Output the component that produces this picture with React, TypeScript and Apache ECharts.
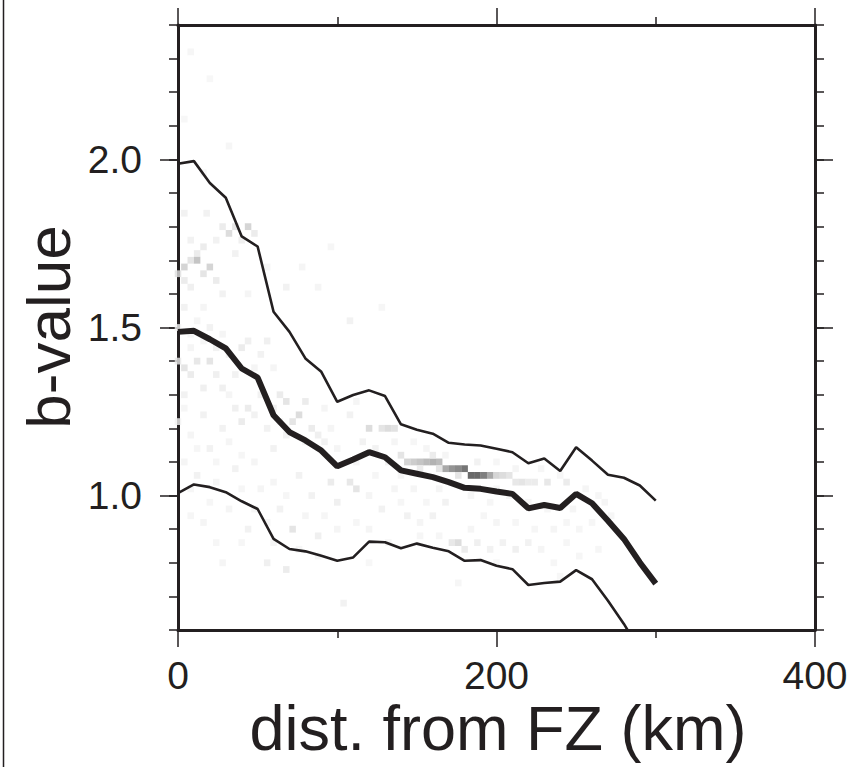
import React, { useEffect, useRef } from 'react';
import * as echarts from 'echarts';

// distance from fault zone (km)
const distances = [0, 10, 20, 30, 40, 50, 60, 70, 80, 90, 100, 110, 120, 130, 140, 150, 160, 170, 180, 190, 200, 210, 220, 230, 240, 250, 260, 270, 280, 290, 300];
// upper confidence bound of b-value
const upperBound = [1.987, 1.995, 1.93, 1.886, 1.771, 1.741, 1.547, 1.487, 1.408, 1.368, 1.279, 1.299, 1.313, 1.296, 1.212, 1.196, 1.184, 1.157, 1.152, 1.149, 1.139, 1.129, 1.096, 1.11, 1.073, 1.144, 1.104, 1.062, 1.053, 1.03, 0.985];
// median b-value
const medianB = [1.487, 1.49, 1.465, 1.438, 1.378, 1.351, 1.239, 1.189, 1.164, 1.134, 1.087, 1.107, 1.129, 1.114, 1.075, 1.065, 1.055, 1.04, 1.023, 1.02, 1.012, 1.005, 0.962, 0.972, 0.963, 1.005, 0.977, 0.925, 0.871, 0.801, 0.738];
// lower confidence bound of b-value
const lowerBound = [1.007, 1.033, 1.025, 1.01, 0.983, 0.96, 0.871, 0.841, 0.834, 0.821, 0.806, 0.816, 0.863, 0.861, 0.843, 0.857, 0.845, 0.834, 0.806, 0.808, 0.791, 0.781, 0.734, 0.74, 0.744, 0.778, 0.751, 0.687, 0.618, 0.54, 0.46];

// density cells [distance km, b-value, relative density]
const densityCells: [number, number, number][] = [
  [8, 2.32, 0.06], [20, 2.24, 0.05], [4, 2.12, 0.05], [32, 2.04, 0.06], [16, 1.96, 0.06], [96, 1.74, 0.06], [128, 1.56, 0.06],
  [4, 1.84, 0.1], [18, 1.84, 0.1], [28, 1.8, 0.15], [36, 1.8, 0.2], [44, 1.8, 0.3], [48, 1.78, 0.15], [32, 1.78, 0.25],
  [40, 1.76, 0.12], [24, 1.76, 0.1], [8, 1.76, 0.1], [12, 1.72, 0.15], [12, 1.7, 0.4], [8, 1.7, 0.2], [4, 1.68, 0.3],
  [20, 1.68, 0.3], [16, 1.66, 0.2], [4, 1.64, 0.15], [24, 1.64, 0.15], [8, 1.62, 0.12], [28, 1.6, 0.1], [0, 1.66, 0.2],
  [16, 1.74, 0.15], [36, 1.72, 0.1], [68, 1.62, 0.1], [88, 1.62, 0.08], [78, 1.68, 0.08], [108, 1.52, 0.1], [56, 1.68, 0.08],
  [4, 1.56, 0.1], [16, 1.56, 0.08], [44, 1.6, 0.08],
  [0, 1.4, 0.15], [4, 1.38, 0.2], [8, 1.36, 0.15], [12, 1.4, 0.18], [20, 1.4, 0.2], [24, 1.36, 0.12], [4, 1.3, 0.1],
  [16, 1.32, 0.12], [28, 1.32, 0.12], [40, 1.44, 0.15], [44, 1.46, 0.12], [56, 1.46, 0.12], [36, 1.26, 0.12], [44, 1.26, 0.15],
  [40, 1.22, 0.15], [16, 1.24, 0.1], [28, 1.2, 0.1], [8, 1.18, 0.08], [20, 1.14, 0.1], [64, 1.3, 0.15], [68, 1.28, 0.2],
  [76, 1.24, 0.25], [80, 1.28, 0.15], [72, 1.22, 0.2], [84, 1.2, 0.15], [88, 1.18, 0.12], [56, 1.2, 0.1], [60, 1.14, 0.1],
  [48, 1.1, 0.08], [92, 1.26, 0.08],
  [4, 1.1, 0.08], [12, 1.06, 0.1], [24, 1.04, 0.08], [36, 1.08, 0.1], [52, 1.02, 0.08], [44, 0.9, 0.1], [72, 0.9, 0.2],
  [64, 0.96, 0.1], [88, 0.88, 0.12], [96, 1.04, 0.15], [108, 1.04, 0.18], [112, 1.02, 0.2], [100, 0.98, 0.12], [84, 1.0, 0.1],
  [56, 0.8, 0.12], [68, 0.78, 0.15], [28, 0.8, 0.08], [104, 0.68, 0.1], [16, 0.92, 0.08], [76, 1.06, 0.1], [120, 1.0, 0.08],
  [128, 0.96, 0.1],
  [108, 1.24, 0.1], [120, 1.2, 0.25], [128, 1.2, 0.2], [132, 1.2, 0.25], [136, 1.2, 0.22], [116, 1.16, 0.1], [124, 1.14, 0.1],
  [112, 1.28, 0.08],
  [140, 1.12, 0.2], [144, 1.1, 0.3], [148, 1.1, 0.35], [152, 1.1, 0.4], [156, 1.1, 0.45], [160, 1.1, 0.5], [164, 1.1, 0.45],
  [168, 1.08, 0.55], [172, 1.08, 0.65], [176, 1.08, 0.7], [180, 1.08, 0.8], [184, 1.06, 0.85], [188, 1.06, 0.85],
  [192, 1.06, 0.75], [196, 1.06, 0.55], [200, 1.06, 0.3], [204, 1.06, 0.25], [208, 1.06, 0.2], [212, 1.04, 0.18],
  [216, 1.04, 0.2], [220, 1.04, 0.15], [224, 1.04, 0.15], [232, 1.04, 0.18], [244, 1.04, 0.15], [152, 1.08, 0.15],
  [164, 1.08, 0.2], [176, 1.06, 0.2], [160, 1.12, 0.15],
  [144, 0.94, 0.1], [152, 0.92, 0.08], [160, 0.94, 0.1], [168, 0.98, 0.1], [172, 0.86, 0.18], [176, 0.86, 0.25],
  [180, 0.84, 0.15], [188, 0.86, 0.12], [196, 0.84, 0.1], [204, 0.86, 0.1], [212, 0.84, 0.12], [220, 0.86, 0.1],
  [228, 0.84, 0.08], [184, 0.9, 0.08], [200, 0.92, 0.08], [236, 0.9, 0.08], [248, 0.96, 0.08], [268, 0.98, 0.08],
  [260, 0.92, 0.06], [176, 0.74, 0.06], [236, 0.8, 0.06],
  [0, 1.5, 0.08], [8, 1.48, 0.06], [12, 1.52, 0.08], [20, 1.5, 0.1], [28, 1.48, 0.08], [32, 1.42, 0.1], [8, 1.44, 0.08],
  [16, 1.46, 0.06], [24, 1.44, 0.1], [36, 1.36, 0.1], [48, 1.38, 0.08], [52, 1.42, 0.1], [60, 1.38, 0.08], [32, 1.3, 0.08],
  [52, 1.3, 0.1], [48, 1.24, 0.1], [60, 1.26, 0.12], [64, 1.22, 0.08], [68, 1.18, 0.1], [80, 1.16, 0.08], [92, 1.16, 0.1],
  [96, 1.2, 0.08], [100, 1.14, 0.08], [32, 1.16, 0.08], [40, 1.12, 0.06], [12, 1.14, 0.06], [0, 1.22, 0.08], [4, 1.26, 0.06],
  [24, 1.1, 0.06], [8, 1.02, 0.06], [20, 0.98, 0.06], [32, 0.96, 0.08], [40, 1.02, 0.06], [60, 1.04, 0.08], [68, 1.0, 0.06],
  [80, 0.94, 0.08], [92, 0.94, 0.06], [100, 0.9, 0.08], [112, 0.92, 0.06], [120, 0.9, 0.08], [56, 0.92, 0.06], [60, 0.86, 0.08],
  [76, 0.84, 0.06], [88, 0.82, 0.06], [40, 0.86, 0.06], [48, 0.96, 0.06], [24, 0.86, 0.06], [8, 0.94, 0.06], [112, 1.1, 0.08],
  [124, 1.06, 0.06], [136, 1.02, 0.08], [132, 1.1, 0.1], [140, 1.06, 0.08], [148, 1.02, 0.08], [156, 0.98, 0.06],
  [164, 1.02, 0.08], [184, 1.0, 0.06], [196, 0.98, 0.06], [208, 1.0, 0.06], [220, 0.98, 0.06], [232, 0.96, 0.06],
  [244, 0.92, 0.06], [252, 0.9, 0.06], [256, 1.02, 0.08], [264, 1.0, 0.06], [272, 0.94, 0.06], [212, 0.92, 0.06],
  [224, 0.9, 0.06], [192, 0.94, 0.06], [140, 0.98, 0.06], [136, 1.16, 0.08], [148, 1.16, 0.06], [156, 1.14, 0.08],
  [168, 1.12, 0.08], [188, 1.1, 0.1], [200, 1.1, 0.06], [212, 1.08, 0.08], [228, 1.08, 0.06], [240, 1.06, 0.06],
  [200, 1.02, 0.06], [152, 0.88, 0.06], [164, 0.88, 0.06], [244, 0.86, 0.06], [252, 0.82, 0.06], [264, 0.84, 0.06],
  [240, 0.76, 0.05], [200, 0.8, 0.05], [120, 0.8, 0.05], [132, 0.86, 0.06],
];

const yLabelValues = [1.0, 1.5, 2.0];
const xLabelValues = [0, 200, 400];

const INK = '#231f20';
const FONT = 'Liberation Sans';

function grayFor(v: number) {
  const g = Math.round(250 - 225 * Math.pow(v, 1.3));
  return `rgb(${g},${g},${g})`;
}

export default function App() {
  const ref = useRef<HTMLDivElement>(null);

  useEffect(() => {
    if (!ref.current) return;
    const chart = echarts.init(ref.current, undefined, { renderer: 'svg' });

    // short ticks every 0.1 with the frame line
    const yMinorAxis = (position: 'left' | 'right', withLabels: boolean) => ({
      type: 'value' as const,
      position,
      min: 0.6,
      max: 2.4,
      interval: 0.1,
      splitLine: { show: false },
      axisLine: { show: true, onZero: false, lineStyle: { color: INK, width: 3 } },
      axisTick: { show: true, inside: false, length: 9, lineStyle: { color: INK, width: 1.5 } },
      axisLabel: withLabels
        ? {
            show: true,
            margin: 36,
            color: INK,
            fontSize: 39,
            fontFamily: FONT,
            customValues: yLabelValues,
            formatter: (v: number) => v.toFixed(1),
          }
        : { show: false },
    });
    // long ticks at labelled values
    const yMajorAxis = (position: 'left' | 'right') => ({
      type: 'value' as const,
      position,
      min: 0.6,
      max: 2.4,
      interval: 0.1,
      splitLine: { show: false },
      axisLine: { show: false, onZero: false },
      axisTick: { show: true, inside: false, length: 18, customValues: yLabelValues, lineStyle: { color: INK, width: 1.5 } },
      axisLabel: { show: false },
    });
    const xAxisBase = {
      type: 'value' as const,
      min: 0,
      max: 400,
      interval: 200,
      splitLine: { show: false },
      axisLine: { show: true, onZero: false, lineStyle: { color: INK, width: 3 } },
      axisTick: { show: true, inside: false, length: 17, lineStyle: { color: INK, width: 1.5 } },
      minorTick: { show: true, splitNumber: 2, length: 8, lineStyle: { color: INK, width: 1.5 } },
      minorSplitLine: { show: false },
    };

    const lineData = (vals: number[]) => distances.map((d, i) => [d, vals[i]]);

    chart.setOption({
      animation: false,
      backgroundColor: '#ffffff',
      grid: { left: 178, top: 25, width: 637, height: 605 },
      xAxis: [
        {
          ...xAxisBase,
          position: 'bottom',
          axisLabel: {
            show: true,
            margin: 26,
            color: INK,
            fontSize: 39,
            fontFamily: FONT,
            formatter: (v: number) => (xLabelValues.includes(v) ? String(v) : ''),
          },
        },
        { ...xAxisBase, position: 'top', axisLabel: { show: false } },
      ],
      yAxis: [yMinorAxis('left', true), yMinorAxis('right', false), yMajorAxis('left'), yMajorAxis('right')],
      series: [
        {
          type: 'scatter',
          name: 'density',
          symbol: 'rect',
          symbolSize: [6.5, 6.8],
          silent: true,
          z: 1,
          data: densityCells.map(([x, y, v]) => ({ value: [x, y], itemStyle: { color: grayFor(v) } })),
        },
        {
          type: 'line',
          name: 'upper',
          data: lineData(upperBound),
          showSymbol: false,
          symbol: 'none',
          z: 3,
          lineStyle: { color: INK, width: 2.6 },
        },
        {
          type: 'line',
          name: 'median',
          data: lineData(medianB),
          showSymbol: false,
          symbol: 'none',
          z: 3,
          lineStyle: { color: INK, width: 6 },
        },
        {
          type: 'line',
          name: 'lower',
          data: lineData(lowerBound),
          showSymbol: false,
          symbol: 'none',
          z: 3,
          lineStyle: { color: INK, width: 2.6 },
        },
      ],
      graphic: [
        {
          type: 'line',
          shape: { x1: 3.5, y1: 0, x2: 3.5, y2: 767 },
          style: { stroke: INK, lineWidth: 1.5 },
        },
        {
          type: 'text',
          x: 48,
          y: 327,
          rotation: Math.PI / 2,
          style: {
            text: 'b-value',
            fontSize: 62,
            fontFamily: FONT,
            fill: INK,
            textAlign: 'center',
            textVerticalAlign: 'middle',
          },
        },
        {
          type: 'text',
          x: 498,
          y: 728,
          style: {
            text: 'dist. from FZ (km)',
            fontSize: 63,
            lineHeight: 56,
            fontFamily: FONT,
            fill: INK,
            textAlign: 'center',
            textVerticalAlign: 'middle',
          },
        },
      ],
    });

    return () => chart.dispose();
  }, []);

  return (
    <div
      ref={ref}
      style={{ position: 'fixed', left: 0, top: 0, width: 866, height: 767, background: '#ffffff' }}
    />
  );
}
